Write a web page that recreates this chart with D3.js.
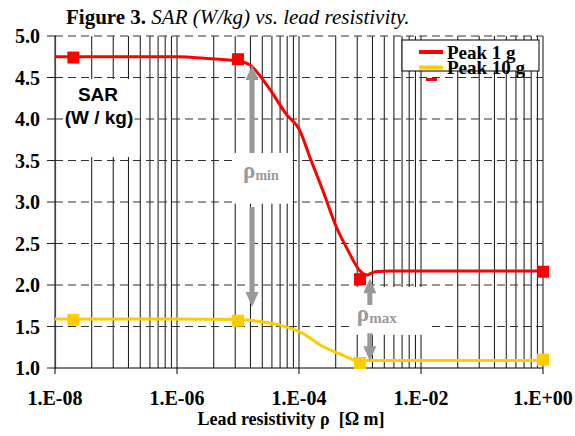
<!DOCTYPE html>
<html><head><meta charset="utf-8">
<script src="https://cdn.jsdelivr.net/npm/d3@7/dist/d3.min.js"></script>
<style>body{margin:0;background:#fff}svg{display:block}</style>
</head><body><svg id="c" width="575" height="436"></svg>
<script>
// ---- data ----
const peak1Rho = [1e-8, 1e-7, 1e-6, 3.16e-6, 1e-5, 1.58e-5, 3.16e-5, 6.31e-5, 1e-4, 1.58e-4, 2.51e-4, 3.98e-4, 6.31e-4, 1e-3, 1.26e-3, 1.78e-3, 3.16e-3, 1e-1, 1];
const peak1Sar = [4.75, 4.75, 4.75, 4.73, 4.70, 4.65, 4.38, 4.05, 3.88, 3.50, 3.12, 2.72, 2.42, 2.17, 2.12, 2.16, 2.17, 2.17, 2.17];
const peak10Rho = [1e-8, 1e-7, 1e-6, 1e-5, 1.58e-5, 3.98e-5, 1e-4, 1.26e-4, 2.19e-4, 5.01e-4, 1e-3, 1.35e-3, 1e-2, 1];
const peak10Sar = [1.59, 1.59, 1.59, 1.585, 1.575, 1.53, 1.44, 1.40, 1.28, 1.16, 1.08, 1.09, 1.09, 1.09];
const markerRho = [2e-8, 1e-5, 1e-3, 1];
const peak1Markers = [4.74, 4.72, 2.07, 2.16];
const peak10Markers = [1.58, 1.57, 1.06, 1.10];
const seriesNames = ["Peak 1 g", "Peak 10 g"];
const xTickValues = [1e-8, 1e-6, 1e-4, 1e-2, 1];
const xTickLabels = ["1.E-08", "1.E-06", "1.E-04", "1.E-02", "1.E+00"];
const yTickValues = [1.0, 1.5, 2.0, 2.5, 3.0, 3.5, 4.0, 4.5, 5.0];
const minorMultipliers = [4, 9, 16, 25, 36, 49, 64, 81];
const titleBold = "Figure 3.";
const titleItalic = "SAR (W/kg) vs. lead resistivity.";
const xTitle = "Lead resistivity \u03C1  [\u03A9 m]";
const yTitle = ["SAR", "(W / kg)"];
// annotations (data units)
const rhoMin = {rho: 1.7e-5, upFrom: 3.59, upTo: 4.65, downFrom: 2.94, downTo: 1.735, box: [8.3e-6, 7.9e-5, 3.59, 2.98], label: "min"};
const rhoMax = {rho: 1.45e-3, upFrom: 1.76, upTo: 2.08, downFrom: 1.42, downTo: 1.08, box: [7.4e-4, 1.5e-2, 1.976, 1.40], label: "max"};

// ---- drawing ----
const svg = d3.select("#c");
const serif = "'Liberation Serif','Times New Roman',serif";
const sans = "'Liberation Sans',Arial,sans-serif";
const RED = "#ff0000", YEL = "#ffcc00", GRAY = "#999999";

const x = d3.scaleLog().domain([1e-8, 1]).range([55, 543]);
const y = d3.scaleLinear().domain([1, 5]).range([368, 36]);

svg.append("rect").attr("width", 575).attr("height", 436).attr("fill", "#fff");

// vertical grid lines
const gridVals = [];
xTickValues.forEach((m, i) => {
  gridVals.push(m);
  if (i < xTickValues.length - 1) minorMultipliers.forEach(k => gridVals.push(m * k));
});
svg.append("g").selectAll("line").data(gridVals).join("line")
  .attr("x1", d => x(d)).attr("x2", d => x(d))
  .attr("y1", y(5)).attr("y2", y(1))
  .attr("stroke", "#111").attr("stroke-width", 1);

// SAR label box (hides vertical lines)
svg.append("rect").attr("x", 56.5).attr("y", 79).attr("width", 83).attr("height", 78).attr("fill", "#fff");

// horizontal dashed grid lines
svg.append("g").selectAll("line").data(yTickValues.filter(v => v > 1)).join("line")
  .attr("x1", x(1e-8)).attr("x2", x(1))
  .attr("y1", d => y(d)).attr("y2", d => y(d))
  .attr("stroke", "#333").attr("stroke-width", 1).attr("stroke-dasharray", "8,5");

// rho annotation boxes
[rhoMin, rhoMax].forEach(a => {
  svg.append("rect")
    .attr("x", x(a.box[0])).attr("y", y(a.box[2]))
    .attr("width", x(a.box[1]) - x(a.box[0])).attr("height", y(a.box[3]) - y(a.box[2]))
    .attr("fill", "#fff");
});

// y axis
svg.append("line").attr("x1", 55.5).attr("x2", 55.5).attr("y1", y(5)).attr("y2", y(1)).attr("stroke", "#444").attr("stroke-width", 1.2);
svg.append("g").selectAll("line").data(yTickValues).join("line")
  .attr("x1", 47).attr("x2", 56).attr("y1", d => y(d)).attr("y2", d => y(d))
  .attr("stroke", "#222").attr("stroke-width", 1);
svg.append("g").selectAll("text").data(yTickValues).join("text")
  .attr("x", 40).attr("y", d => y(d)).attr("dy", "0.35em")
  .attr("text-anchor", "end").attr("font-family", serif).attr("font-weight", "bold").attr("font-size", 20)
  .text(d => d.toFixed(1));

// x axis
svg.append("line").attr("x1", x(1e-8)).attr("x2", x(1)).attr("y1", 368).attr("y2", 368).attr("stroke", "#000").attr("stroke-width", 1.2);
svg.append("g").selectAll("line").data(xTickValues).join("line")
  .attr("x1", d => x(d)).attr("x2", d => x(d)).attr("y1", 368).attr("y2", 374)
  .attr("stroke", "#000").attr("stroke-width", 1);
svg.append("g").selectAll("text").data(xTickValues).join("text")
  .attr("x", d => x(d)).attr("y", 405).attr("text-anchor", "middle")
  .attr("font-family", serif).attr("font-weight", "bold").attr("font-size", 20)
  .text((d, i) => xTickLabels[i]);
svg.append("text").attr("x", 291).attr("y", 425).attr("text-anchor", "middle")
  .attr("font-family", serif).attr("font-weight", "bold").attr("font-size", 18)
  .style("white-space", "pre").text(xTitle);

// SAR label
svg.append("text").attr("x", 98).attr("y", 101).attr("text-anchor", "middle")
  .attr("font-family", sans).attr("font-weight", "bold").attr("font-size", 19).text(yTitle[0]);
const t2 = svg.append("text").attr("x", 99).attr("y", 124).attr("text-anchor", "middle")
  .attr("font-family", sans).attr("font-weight", "bold").attr("font-size", 19).text(yTitle[1]);
const bb = t2.node().getBBox();
svg.insert("rect", () => t2.node()).attr("x", bb.x - 1).attr("y", bb.y).attr("width", bb.width + 2).attr("height", bb.height).attr("fill", "#fff");

// curves
const line = d3.line().x(d => x(d[0])).y(d => y(d[1])).curve(d3.curveMonotoneX);
svg.append("path").datum(peak10Rho.map((r, i) => [r, peak10Sar[i]]))
  .attr("d", line).attr("fill", "none").attr("stroke", YEL).attr("stroke-width", 3);
svg.append("path").datum(peak1Rho.map((r, i) => [r, peak1Sar[i]]))
  .attr("d", line).attr("fill", "none").attr("stroke", RED).attr("stroke-width", 3);

// arrows
function arrow(xp, y0, y1) {
  const dir = y1 < y0 ? -1 : 1; // -1 up
  const hb = y1 - dir * 15;
  return `M${xp - 2.5},${y0} L${xp - 2.5},${hb} L${xp - 6.5},${hb} L${xp},${y1} L${xp + 6.5},${hb} L${xp + 2.5},${hb} L${xp + 2.5},${y0} Z`;
}
[rhoMin, rhoMax].forEach(a => {
  const xp = x(a.rho);
  svg.append("path").attr("d", arrow(xp, y(a.upFrom), y(a.upTo))).attr("fill", GRAY);
  svg.append("path").attr("d", arrow(xp, y(a.downFrom), y(a.downTo))).attr("fill", GRAY);
});
const lm = svg.append("text").attr("x", x(rhoMin.box[0]) + 10).attr("y", 178)
  .attr("font-family", serif).attr("font-weight", "bold").attr("fill", GRAY).attr("font-size", 23);
lm.append("tspan").text("\u03C1");
lm.append("tspan").attr("font-size", 14).attr("dy", 2).text(rhoMin.label);
const lx = svg.append("text").attr("x", x(rhoMax.rho) - 13).attr("y", 321)
  .attr("font-family", serif).attr("font-weight", "bold").attr("fill", GRAY).attr("font-size", 23);
lx.append("tspan").text("\u03C1");
lx.append("tspan").attr("font-size", 15).attr("dy", 2).text(rhoMax.label);

// markers
const sq = 12;
svg.append("g").selectAll("rect").data(markerRho).join("rect")
  .attr("x", d => x(d) - sq / 2).attr("y", (d, i) => y(peak10Markers[i]) - sq / 2)
  .attr("width", sq).attr("height", sq).attr("fill", YEL);
svg.append("g").selectAll("rect").data(markerRho).join("rect")
  .attr("x", d => x(d) - sq / 2).attr("y", (d, i) => y(peak1Markers[i]) - sq / 2)
  .attr("width", sq).attr("height", sq).attr("fill", RED);

// legend
const lg = svg.append("g");
lg.append("rect").attr("x", 402).attr("y", 40).attr("width", 137).attr("height", 31)
  .attr("fill", "#fff").attr("stroke", "#000").attr("stroke-width", 1);
const legColors = [RED, YEL];
seriesNames.forEach((n, i) => {
  const yy = 52 + i * 15.5;
  lg.append("line").attr("x1", 419).attr("x2", 443).attr("y1", yy).attr("y2", yy).attr("stroke", legColors[i]).attr("stroke-width", 4);
  lg.append("text").attr("x", 447).attr("y", yy + 6.5).attr("font-family", serif).attr("font-weight", "bold").attr("font-size", 19).text(n);
});
lg.append("rect").attr("x", 426).attr("y", 78).attr("width", 11).attr("height", 3).attr("fill", RED);

// title
const tt = svg.append("text").attr("x", 66).attr("y", 24).attr("font-family", serif).attr("font-size", 21);
tt.append("tspan").attr("font-weight", "bold").text(titleBold);
tt.append("tspan").attr("font-style", "italic").text(" " + titleItalic);
</script></body></html>
